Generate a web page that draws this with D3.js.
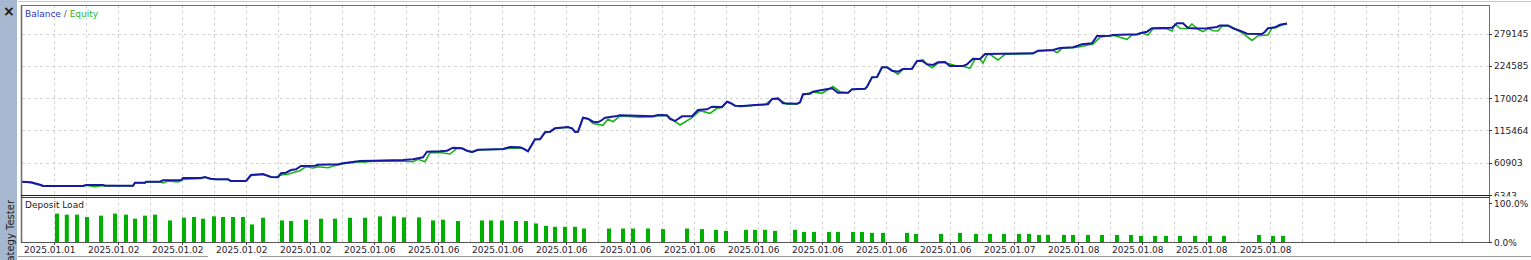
<!DOCTYPE html>
<html>
<head>
<meta charset="utf-8">
<script src="https://cdn.jsdelivr.net/npm/d3@7"></script>
<style>
  body { margin: 0; background: #fff; overflow: hidden; }
  text { font-family: "DejaVu Sans", sans-serif; font-size: 9px; }
</style>
</head>
<body>
<div id="chart"></div>
<script>
// price axis labels (right side)
const yTicks = [6343, 60903, 115464, 170024, 224585, 279145];
const loadTicks = [0, 100];

// date labels along the bottom, one every 16 deals
const dateLabels = ["2025.01.01", "2025.01.02", "2025.01.02", "2025.01.02", "2025.01.02",
    "2025.01.06", "2025.01.06", "2025.01.06", "2025.01.06", "2025.01.06", "2025.01.06",
    "2025.01.06", "2025.01.06", "2025.01.06", "2025.01.06", "2025.01.07", "2025.01.08",
    "2025.01.08", "2025.01.08", "2025.01.08"];

// balance curve: position (deal step) and value
const balancePos = [0, 2.25, 4.75, 5.25, 15.25, 16, 20.25, 20.75, 27.75, 28.25, 30.75, 31, 34.5, 35.25, 39.75,
    40.25, 44.75, 45.75, 47, 48.5, 51.5, 52.25, 56, 57.25, 60.25, 62.25, 64, 64.75, 66, 67.25, 68.5, 69.75,
    73.25, 74, 79, 80.25, 84.5, 87.75, 95.25, 97.75, 100.25, 101.25, 104.5, 106.25, 107.75, 110, 111.25,
    112.5, 114, 120.25, 122, 124.5, 125.25, 126.5, 128.25, 129.5, 130.75, 132, 133.25, 136.5, 137.5, 138.25,
    139, 140.25, 141.5, 142.75, 144, 145, 145.75, 148.75, 149.5, 153.75, 157.75, 159, 161.25, 162, 163.25,
    165, 167.5, 169, 171.25, 172.5, 175, 176.25, 177, 178.25, 180.25, 183.25, 186.5, 187.5, 189, 190.25,
    193.75, 194.5, 195.25, 197, 197.75, 200, 202.5, 204, 206.5, 207.5, 210.75, 211.25, 212.5, 213.75, 215,
    216.25, 217.5, 219, 220.25, 222.5, 223.75, 225, 226.25, 227.75, 229, 230.75, 232, 235.25, 236.25,
    237.75, 239.5, 240.75, 252.75, 254, 257.75, 259.5, 262.75, 263.75, 265, 267.5, 268.75, 272, 272.75,
    278.75, 280, 281.25, 282.5, 287.5, 288.75, 290.25, 291.5, 293.75, 296.25, 298.75, 299.5, 301.5, 302.75,
    304.5, 306.25, 310, 310.75, 311.5, 313.25, 314.5, 316.25];
const balance = [28809, 27796, 23235, 21546, 21546, 23235, 23235, 22053, 22053, 27120, 27120, 28809, 28809, 31174, 31174,
    35059, 35059, 36749, 33877, 32863, 32863, 29992, 29992, 40127, 41816, 36749, 36242, 42999, 44012, 48573, 49755, 55330,
    55837, 57526, 58201, 59891, 63776, 64283, 65465, 66647, 70026, 79485, 80161, 81175, 86242, 85229, 81175,
    78979, 82864, 84046, 87425, 86918, 85229, 80161, 100431, 100431, 112256, 113269, 119013, 121209, 119013, 112763,
    113269, 136918, 135229, 130161, 129148, 133033, 136918, 139790, 140972, 140297, 139283, 141479, 140972, 134722, 131344,
    139283, 139283, 149925, 151107, 155499, 154993, 163945, 162256, 157189, 156682, 158371, 159553, 168506, 169689, 161243,
    160567, 162932, 176445, 177459, 180837, 183709, 186581, 179148, 179148, 184891, 185905, 189283, 205162, 205669, 222054,
    222054, 216311, 214621, 219182, 219689, 232696, 233203, 227121, 225939, 230500, 231007, 224250, 224250, 227121,
    236581, 236074, 244520, 245703, 250095, 251277, 254655, 255838, 258034, 260905, 262594, 274926, 275432, 276615,
    277797, 280500, 282189, 287933, 288946, 296379, 296379, 288439, 287595, 287933, 290129, 292662, 292662, 287933,
    283879, 278811, 278304, 282189, 287933, 289622, 294014, 296041];

// equity curve
const equityPos = [0, 2.25, 4.75, 5.25, 15.25, 16, 18.25, 20.25, 27.75, 28.25, 30.75, 31, 34.5, 35.25, 36.5, 39,
    40.25, 44.75, 45.75, 48.5, 51.5, 52.25, 56, 57.25, 60.25, 62.25, 63.25, 64.75, 66.5, 68.25, 69.5, 71, 72.75,
    74, 76.5, 77.75, 79, 80.25, 84.5, 85.25, 87.75, 95.25, 97.75, 99, 100.75, 102, 104.5, 107, 108.75, 110,
    111.25, 112.5, 114, 120.25, 122, 124.5, 125.25, 126.5, 128.25, 129.5, 130.75, 132, 133.25, 136.5, 137.5,
    138.25, 139, 140.25, 141.5, 142.75, 145.25, 146.5, 147.75, 149, 149.5, 154.5, 157.75, 159, 161.25, 162,
    164.5, 165.75, 167.5, 169.5, 172, 173.75, 175, 176.25, 177, 178.25, 179.5, 183.25, 185.75, 187.5, 189,
    191.25, 193.75, 194.5, 195.25, 197.75, 200, 202.75, 204.5, 206.5, 207.5, 210.75, 211.25, 212.5, 213.75,
    215, 216.25, 217.75, 219, 220.25, 222.5, 223.75, 225.25, 226.25, 227.5, 229, 230.25, 232, 233.25, 235.25,
    237, 238.25, 239.5, 240.25, 241.25, 242, 244, 245.75, 252.75, 254, 257.75, 258.75, 260, 262.75, 264.5,
    267.75, 269.5, 272.75, 276.25, 277.5, 278.75, 280, 281.5, 282.75, 286, 287.5, 288.25, 289.5, 291.25,
    292.5, 294, 295.25, 296.5, 297.75, 299, 300, 302, 305, 307.5, 309, 311.5, 312.5, 313.5, 315, 316.25];
const equity = [28809, 26951, 22390, 21039, 21039, 22728, 20363, 22390, 21546, 26613, 26613, 28303, 28303, 26613, 29992, 28303,
    32526, 34215, 36242, 32526, 32526, 29485, 29485, 39282, 40972, 36749, 35904, 40127, 41309, 45195, 47391, 54147, 51951,
    54147, 52458, 55330, 57019, 59046, 62424, 61580, 63269, 63269, 62593, 66647, 62593, 77796, 78134, 75600, 85229, 84891,
    81175, 78134, 82357, 83539, 85229, 85229, 84891, 80668, 100094, 100094, 111918, 112763, 118675, 120702, 118675,
    113607, 113607, 136411, 134722, 127121, 124080, 134722, 130161, 136918, 139790, 137594, 138607, 140634, 140297, 136411,
    124587, 129655, 136918, 148743, 144351, 152797, 154148, 163439, 161749, 157526, 155499, 157864, 158878, 167999, 168506,
    159553, 160060, 162256, 175770, 180331, 178135, 189621, 180837, 178641, 184554, 185398, 188777, 204824, 205162,
    221716, 221716, 215804, 210229, 218675, 219182, 232189, 234385, 226784, 221378, 229317, 230500, 227628, 225094, 223743,
    220365, 236074, 235567, 228811, 242831, 244013, 234385, 244013, 245027, 249588, 250770, 246716, 254149, 255162, 256851,
    261412, 272730, 276108, 269351, 276615, 277122, 279993, 276615, 287257, 287595, 283372, 294689, 287933, 287257,
    295196, 286243, 282189, 287595, 283879, 283372, 291818, 291818, 280500, 267324, 275432, 276615, 288439, 288946, 293507, 295703];

// deposit load bars (percent)
const loadPos = [8.75, 11.2, 13.75, 16.25, 19.75, 23.25, 26, 28.25, 30.75, 33.25, 37, 40.5, 43, 45.25, 48, 50.25,
    52.75, 55.25, 57.5, 60.25, 65, 67.25, 71, 74.75, 78.25, 82, 85.75, 89.5, 93, 95.5, 99.25, 102.75, 105.25,
    109, 115, 117.25, 120, 123.5, 126, 128.5, 131, 133.25, 135.75, 138.25, 140.5, 146.75, 150.25, 152.75, 156.5,
    160.25, 166.25, 170, 173.5, 176, 181, 183.25, 185.75, 188.25, 193.25, 195.5, 198, 201.75, 204, 207.75, 210,
    212.5, 215.25, 221.25, 223.5, 229.75, 234.5, 238.5, 242, 245.5, 249.25, 251.75, 254.25, 256.5, 260.5, 262.75,
    266.5, 270, 273.75, 277.25, 279.75, 283.25, 286, 289.5, 293.25, 297, 300.5, 309.25, 312.75, 315.25];
const load = [71.8, 69.2, 69.2, 63.3, 66.7, 71.8, 69.2, 59.0, 66.7, 69.2, 54.6, 61.5, 63.3, 59.0, 64.9, 63.3,
    63.3, 63.3, 44.4, 61.5, 54.6, 53.1, 56.4, 59.0, 59.0, 61.5, 61.5, 64.9, 64.9, 62.3, 62.3, 54.6, 56.4,
    53.1, 54.6, 54.6, 54.6, 53.1, 53.1, 46.9, 41.0, 38.5, 38.5, 38.5, 34.1, 34.1, 34.1, 34.1, 34.1,
    32.6, 34.1, 32.6, 30.8, 28.2, 30.8, 30.8, 30.8, 28.2, 30.8, 25.6, 25.6, 25.6, 25.6, 25.6, 25.6,
    23.1, 23.1, 23.1, 20.5, 20.5, 23.1, 20.5, 20.5, 20.5, 20.5, 20.5, 17.9, 17.9, 17.9, 17.9,
    17.9, 17.9, 17.9, 17.9, 15.4, 15.4, 15.4, 15.4, 15.4, 15.4, 15.4, 17.9, 15.4, 15.4];

// layout
const W = 1531, H = 260;
const plotLeft = 22, plotRight = 1489;
const mainTop = 5, mainBottom = 195, loadTop = 197, loadBottom = 242;

const svg = d3.select("#chart")
    .append("svg")
    .attr("width", W)
    .attr("height", H);

const x = d3.scaleLinear()
    .domain([0, (plotRight - plotLeft) / 4])
    .range([plotLeft, plotRight]);

const y = d3.scaleLinear()
    .domain([6343, 279145])
    .range([mainBottom, 33.5]);

const yLoad = d3.scaleLinear()
    .domain([0, 100])
    .range([loadBottom, 202.5]);

// side tab of the terminal
svg.append("rect").attr("x", 0).attr("y", 0).attr("width", 17).attr("height", H).attr("fill", "#a5b8cf");
svg.append("text").attr("x", 3).attr("y", 16).style("font-size", "14px").style("font-weight", "bold")
    .attr("fill", "#1a1a1a").text("×");
svg.append("text").attr("transform", "translate(14,200) rotate(-90)").attr("text-anchor", "end")
    .style("font-size", "10px").attr("fill", "#222").text("Strategy Tester");

svg.append("line").attr("x1", 18).attr("x2", W).attr("y1", 1.5).attr("y2", 1.5).attr("stroke", "#c8c8c8");

// grid
const gridX = d3.range(8, x.domain()[1], 8);
const grid = svg.append("g").attr("stroke", "#d4d4d4").attr("stroke-dasharray", "3,3");
grid.selectAll(".vmain").data(gridX).join("line")
    .attr("x1", d => Math.round(x(d)) + 0.5).attr("x2", d => Math.round(x(d)) + 0.5)
    .attr("y1", mainTop).attr("y2", mainBottom);
grid.selectAll(".vload").data(gridX).join("line")
    .attr("x1", d => Math.round(x(d)) + 0.5).attr("x2", d => Math.round(x(d)) + 0.5)
    .attr("y1", loadTop).attr("y2", loadBottom);
grid.selectAll(".h").data(yTicks.slice(1)).join("line")
    .attr("x1", plotLeft).attr("x2", plotRight)
    .attr("y1", d => Math.round(y(d)) + 0.5).attr("y2", d => Math.round(y(d)) + 0.5);

// deposit load bars
svg.append("g").selectAll("rect").data(d3.zip(loadPos, load)).join("rect")
    .attr("x", d => x(d[0]) - 2)
    .attr("width", 4)
    .attr("y", d => yLoad(d[1]))
    .attr("height", d => yLoad(0) - yLoad(d[1]))
    .attr("fill", "#00b000");

// balance / equity lines
svg.append("clipPath").attr("id", "mainClip").append("rect")
    .attr("x", plotLeft).attr("y", mainTop).attr("width", plotRight - plotLeft).attr("height", mainBottom - mainTop);

const line = d3.line().x(d => x(d[0])).y(d => y(d[1]));

svg.append("path")
    .datum(d3.zip(equityPos, equity))
    .attr("clip-path", "url(#mainClip)")
    .attr("fill", "none")
    .attr("stroke", "#1ab41a")
    .attr("stroke-width", 1.6)
    .attr("d", line);

svg.append("path")
    .datum(d3.zip(balancePos, balance))
    .attr("clip-path", "url(#mainClip)")
    .attr("fill", "none")
    .attr("stroke", "#1818a4")
    .attr("stroke-width", 2)
    .attr("d", line);

// frame
const frame = svg.append("g").attr("fill", "none");
frame.append("line").attr("x1", 21).attr("x2", plotRight + 0.5).attr("y1", mainTop + 0.5).attr("y2", mainTop + 0.5).attr("stroke", "#6e6e6e");
frame.append("line").attr("x1", 21.5).attr("x2", 21.5).attr("y1", mainTop).attr("y2", loadBottom + 1).attr("stroke", "#6e6e6e").attr("stroke-width", 1.6);
frame.append("line").attr("x1", plotRight + 0.5).attr("x2", plotRight + 0.5).attr("y1", mainTop).attr("y2", loadBottom + 1).attr("stroke", "#6e6e6e");
frame.append("line").attr("x1", 21).attr("x2", plotRight + 1).attr("y1", mainBottom + 0.5).attr("y2", mainBottom + 0.5).attr("stroke", "#1a1a1a");
frame.append("line").attr("x1", 21).attr("x2", plotRight + 1).attr("y1", loadTop + 0.5).attr("y2", loadTop + 0.5).attr("stroke", "#3a3a3a");
frame.append("line").attr("x1", 21).attr("x2", plotRight + 1).attr("y1", loadBottom + 0.5).attr("y2", loadBottom + 0.5).attr("stroke", "#555");

// price axis
svg.append("clipPath").attr("id", "axisClip").append("rect")
    .attr("x", plotRight).attr("y", 0).attr("width", W - plotRight).attr("height", mainBottom + 1.5);
const yAxis = svg.append("g").attr("clip-path", "url(#axisClip)");
yAxis.selectAll("line").data(yTicks).join("line")
    .attr("x1", plotRight).attr("x2", plotRight + 3)
    .attr("y1", d => Math.round(y(d)) + 0.5).attr("y2", d => Math.round(y(d)) + 0.5)
    .attr("stroke", "#333");
yAxis.selectAll("text").data(yTicks).join("text")
    .attr("x", plotRight + 5).attr("y", d => y(d) + 3.5)
    .attr("fill", "#1c1c2c").text(d => d);

svg.append("g").selectAll("text").data(loadTicks).join("text")
    .attr("x", plotRight + 5).attr("y", d => yLoad(d) + 4)
    .attr("fill", "#1c1c2c").text(d => d3.format(".1f")(d) + "%");
svg.append("g").selectAll("line").data(loadTicks).join("line")
    .attr("x1", plotRight).attr("x2", plotRight + 3)
    .attr("y1", d => Math.round(yLoad(d)) + 0.5).attr("y2", d => Math.round(yLoad(d)) + 0.5)
    .attr("stroke", "#333");

// time axis
svg.append("g").selectAll("line").data(dateLabels).join("line")
    .attr("x1", (d, i) => Math.round(x(16 * i + 8)) + 0.5).attr("x2", (d, i) => Math.round(x(16 * i + 8)) + 0.5)
    .attr("y1", loadBottom).attr("y2", loadBottom + 3)
    .attr("stroke", "#444");
svg.append("g").selectAll("text").data(dateLabels).join("text")
    .attr("x", (d, i) => x(16 * i) + 2).attr("y", 253)
    .attr("fill", "#1c1c2c").text(d => d);

// panel titles
const legend = svg.append("text").attr("x", 25).attr("y", 17);
legend.append("tspan").attr("fill", "#3030c4").text("Balance");
legend.append("tspan").attr("fill", "#555").text(" / ");
legend.append("tspan").attr("fill", "#2cb42c").text("Equity");

svg.append("text").attr("x", 25).attr("y", 208).attr("fill", "#1a1a1a").text("Deposit Load");

// bottom tab strip
svg.append("line").attr("x1", 18).attr("x2", 208).attr("y1", 256.5).attr("y2", 256.5).attr("stroke", "#9a9a9a");
svg.append("line").attr("x1", 260).attr("x2", W).attr("y1", 256.5).attr("y2", 256.5).attr("stroke", "#9a9a9a");
</script>
</body>
</html>
